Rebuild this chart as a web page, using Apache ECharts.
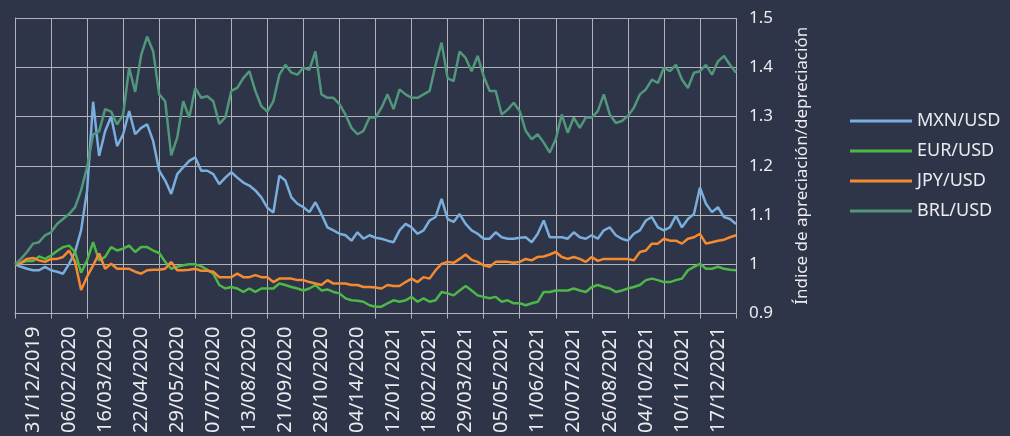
<!DOCTYPE html>
<html>
<head>
<meta charset="utf-8">
<script src="https://cdn.jsdelivr.net/npm/echarts@6/dist/echarts.min.js"></script>
<style>
  html, body { margin: 0; padding: 0; background: #2e3549; }
  #chart { width: 1010px; height: 436px; }
</style>
</head>
<body>
<div id="chart"></div>
<script>
// etiquetas del eje x (una por banda)
const dateLabels = ['31/12/2019', '06/02/2020', '16/03/2020', '22/04/2020', '29/05/2020',
  '07/07/2020', '13/08/2020', '21/09/2020', '28/10/2020', '04/14/2020',
  '12/01/2021', '18/02/2021', '29/03/2021', '05/05/2021', '11/06/2021',
  '20/07/2021', '26/08/2021', '04/10/2021', '10/11/2021', '17/12/2021']

// valores, 6 muestras por banda (121 puntos)
const mxn = [
  1.000, 0.995, 0.991, 0.988, 0.988, 0.995, 0.988,
  0.985, 0.981, 1.001, 1.025, 1.069, 1.150,
  1.330, 1.220, 1.270, 1.300, 1.240, 1.264,
  1.311, 1.264, 1.277, 1.284, 1.250, 1.190,
  1.170, 1.143, 1.183, 1.197, 1.210, 1.217,
  1.190, 1.190, 1.183, 1.163, 1.176, 1.187,
  1.176, 1.166, 1.160, 1.150, 1.136, 1.115,
  1.105, 1.180, 1.170, 1.136, 1.123, 1.116,
  1.106, 1.126, 1.102, 1.075, 1.069, 1.062,
  1.059, 1.048, 1.065, 1.052, 1.059, 1.054,
  1.052, 1.048, 1.045, 1.069, 1.082, 1.075,
  1.062, 1.069, 1.089, 1.096, 1.133, 1.092,
  1.086, 1.102, 1.082, 1.069, 1.062, 1.052,
  1.052, 1.065, 1.055, 1.052, 1.052, 1.054,
  1.055, 1.045, 1.062, 1.089, 1.055, 1.055,
  1.055, 1.052, 1.065, 1.055, 1.052, 1.059,
  1.052, 1.069, 1.075, 1.059, 1.052, 1.048,
  1.062, 1.069, 1.089, 1.096, 1.075, 1.069,
  1.075, 1.099, 1.075, 1.092, 1.102, 1.156,
  1.123, 1.106, 1.116, 1.096, 1.092, 1.082
]
const eur = [
  1.000, 1.003, 1.007, 1.007, 1.016, 1.011, 1.018,
  1.027, 1.035, 1.038, 1.025, 0.983, 1.008,
  1.045, 1.008, 1.015, 1.035, 1.028, 1.032,
  1.038, 1.025, 1.035, 1.035, 1.028, 1.023,
  1.005, 0.991, 0.995, 0.998, 1.000, 1.000,
  0.996, 0.989, 0.981, 0.958, 0.951, 0.954,
  0.951, 0.944, 0.951, 0.944, 0.951, 0.951,
  0.951, 0.961, 0.958, 0.954, 0.951, 0.947,
  0.951, 0.958, 0.947, 0.949, 0.944, 0.941,
  0.931, 0.927, 0.926, 0.924, 0.917, 0.914,
  0.914, 0.921, 0.927, 0.924, 0.927, 0.934,
  0.924, 0.931, 0.924, 0.927, 0.944, 0.941,
  0.937, 0.947, 0.956, 0.947, 0.937, 0.934,
  0.931, 0.934, 0.924, 0.927, 0.921, 0.921,
  0.917, 0.921, 0.924, 0.944, 0.944, 0.947,
  0.947, 0.947, 0.951, 0.947, 0.944, 0.954,
  0.958, 0.954, 0.951, 0.944, 0.947, 0.951,
  0.954, 0.958, 0.968, 0.971, 0.968, 0.964,
  0.964, 0.968, 0.971, 0.988, 0.995, 1.001,
  0.991, 0.991, 0.995, 0.991, 0.989, 0.988
]
const jpy = [
  1.000, 1.003, 1.011, 1.013, 1.008, 1.005, 1.011,
  1.011, 1.015, 1.028, 1.005, 0.948, 0.975,
  0.998, 1.022, 0.991, 1.001, 0.991, 0.991,
  0.991, 0.985, 0.981, 0.988, 0.989, 0.989,
  0.991, 1.005, 0.988, 0.988, 0.989, 0.991,
  0.987, 0.987, 0.985, 0.974, 0.974, 0.974,
  0.981, 0.974, 0.974, 0.978, 0.974, 0.974,
  0.964, 0.971, 0.971, 0.971, 0.968, 0.968,
  0.964, 0.961, 0.958, 0.968, 0.961, 0.961,
  0.961, 0.958, 0.958, 0.954, 0.954, 0.953,
  0.951, 0.958, 0.956, 0.956, 0.964, 0.971,
  0.964, 0.974, 0.971, 0.988, 1.001, 1.005,
  1.003, 1.011, 1.020, 1.009, 1.005, 0.998,
  0.995, 1.005, 1.005, 1.005, 1.003, 1.005,
  1.011, 1.008, 1.015, 1.016, 1.020, 1.025,
  1.015, 1.011, 1.015, 1.011, 1.005, 1.015,
  1.007, 1.011, 1.011, 1.011, 1.011, 1.011,
  1.008, 1.025, 1.028, 1.042, 1.042, 1.052,
  1.048, 1.048, 1.042, 1.052, 1.055, 1.062,
  1.042, 1.045, 1.048, 1.050, 1.055, 1.059
]
const brl = [
  1.000, 1.011, 1.025, 1.042, 1.045, 1.059, 1.065,
  1.082, 1.092, 1.102, 1.116, 1.150, 1.197,
  1.264, 1.270, 1.315, 1.310, 1.284, 1.304,
  1.399, 1.350, 1.425, 1.462, 1.432, 1.345,
  1.331, 1.221, 1.257, 1.331, 1.298, 1.358,
  1.338, 1.341, 1.331, 1.285, 1.298, 1.352,
  1.358, 1.378, 1.392, 1.352, 1.321, 1.310,
  1.331, 1.385, 1.405, 1.389, 1.385, 1.399,
  1.395, 1.432, 1.345, 1.338, 1.338, 1.325,
  1.304, 1.277, 1.264, 1.271, 1.298, 1.298,
  1.318, 1.345, 1.315, 1.355, 1.345, 1.338,
  1.338, 1.345, 1.352, 1.405, 1.450, 1.378,
  1.372, 1.432, 1.419, 1.392, 1.423, 1.382,
  1.352, 1.352, 1.304, 1.314, 1.328, 1.311,
  1.271, 1.254, 1.264, 1.247, 1.227, 1.254,
  1.304, 1.267, 1.298, 1.277, 1.298, 1.298,
  1.311, 1.345, 1.304, 1.287, 1.291, 1.301,
  1.318, 1.345, 1.355, 1.375, 1.368, 1.399,
  1.392, 1.405, 1.375, 1.358, 1.389, 1.392,
  1.405, 1.385, 1.412, 1.423, 1.405, 1.389
]

const seriesNames = ['MXN/USD', 'EUR/USD', 'JPY/USD', 'BRL/USD']
const seriesColors = ['#7aaedd', '#4db848', '#f68a30', '#50977b']
const seriesValues = [mxn, eur, jpy, brl]

const gridColor = '#b1b3b9'
const textColor = '#ebebee'
const fontFamily = '"Noto Sans", "DejaVu Sans", sans-serif'

const chart = echarts.init(document.getElementById('chart'))

const option = {
  backgroundColor: '#2e3549',
  animation: false,
  textStyle: { fontFamily },
  grid: { left: 15, right: 274, top: 18, bottom: 120 },
  legend: {
    orient: 'vertical',
    left: 845,
    top: 106,
    icon: 'rect',
    itemWidth: 62,
    itemHeight: 3,
    itemGap: 10,
    data: seriesNames,
    textStyle: { color: textColor, fontSize: 18, lineHeight: 20, padding: [0, 0, 0, 0] }
  },
  xAxis: [
    {
      type: 'category',
      data: dateLabels,
      boundaryGap: true,
      axisLine: { lineStyle: { color: gridColor, width: 1 } },
      axisTick: { show: true, length: 5, interval: 0, lineStyle: { color: gridColor } },
      splitLine: { show: true, interval: 0, lineStyle: { color: gridColor, width: 1 } },
      axisLabel: { rotate: 90, interval: 0, color: textColor, fontSize: 20, margin: 13 }
    },
    {
      type: 'value',
      min: 0,
      max: mxn.length - 1,
      show: false
    }
  ],
  yAxis: {
    type: 'value',
    position: 'right',
    min: 0.9,
    max: 1.5,
    interval: 0.1,
    name: 'Índice de apreciación/depreciación',
    nameLocation: 'middle',
    nameRotate: 90,
    nameGap: 58,
    nameTextStyle: { color: textColor, fontSize: 17 },
    axisLine: { show: true, lineStyle: { color: gridColor, width: 1 } },
    axisTick: { show: true, length: 5, lineStyle: { color: gridColor } },
    splitLine: { lineStyle: { color: gridColor, width: 1 } },
    axisLabel: { color: textColor, fontSize: 17, margin: 13 }
  },
  series: seriesNames.map((name, i) => ({
    name,
    type: 'line',
    xAxisIndex: 1,
    symbol: 'none',
    color: seriesColors[i],
    lineStyle: { width: 2.5, color: seriesColors[i] },
    data: seriesValues[i].map((v, k) => [k, v])
  }))
}

chart.setOption(option)
</script>
</body>
</html>
